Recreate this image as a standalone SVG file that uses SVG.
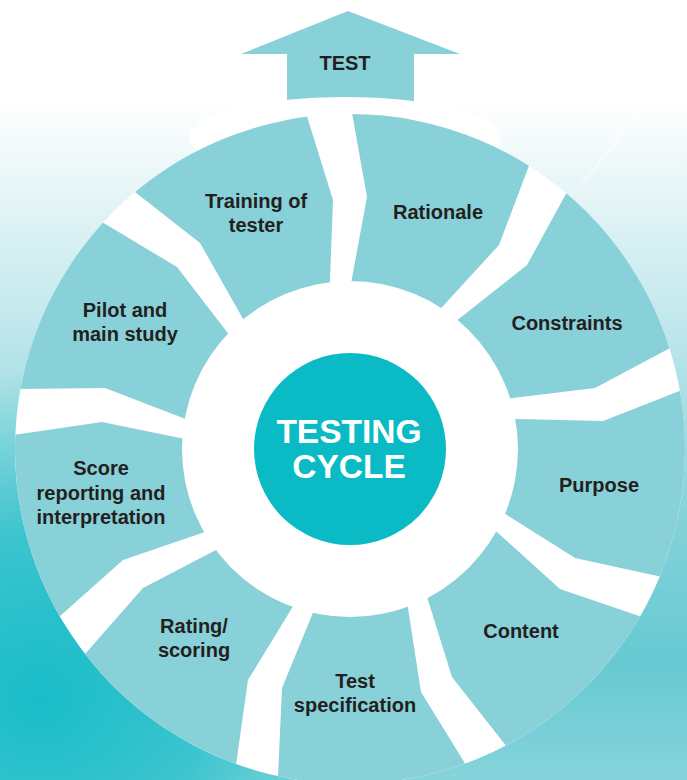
<svg xmlns="http://www.w3.org/2000/svg" width="687" height="780" viewBox="0 0 687 780">
<defs>
<linearGradient id="bg" x1="0" y1="0" x2="0" y2="780" gradientUnits="userSpaceOnUse">
<stop offset="0" stop-color="#ffffff"/>
<stop offset="0.13" stop-color="#ffffff"/>
<stop offset="0.2" stop-color="#f0f9fa"/>
<stop offset="0.4" stop-color="#c4e9ed"/>
<stop offset="0.65" stop-color="#86d3da"/>
<stop offset="0.85" stop-color="#66c9d2"/>
<stop offset="1" stop-color="#86d4db"/>
</linearGradient>
<radialGradient id="bl" cx="40" cy="700" r="330" gradientUnits="userSpaceOnUse">
<stop offset="0" stop-color="#14bcc8" stop-opacity="0.95"/>
<stop offset="0.5" stop-color="#1fbfca" stop-opacity="0.7"/>
<stop offset="1" stop-color="#40c6cf" stop-opacity="0"/>
</radialGradient>
<linearGradient id="streak" x1="687" y1="60" x2="540" y2="230" gradientUnits="userSpaceOnUse">
<stop offset="0" stop-color="#ffffff" stop-opacity="0"/>
<stop offset="0.5" stop-color="#ffffff" stop-opacity="0.5"/>
<stop offset="1" stop-color="#ffffff" stop-opacity="0"/>
</linearGradient>
<clipPath id="ring">
<path clip-rule="evenodd" d="M15,449 a335,335 0 1,0 670,0 a335,335 0 1,0 -670,0 Z M182,449 a168,168 0 1,0 336,0 a168,168 0 1,0 -336,0 Z"/>
</clipPath>
<style>
.seg{fill:#88d1d8;}
.lbl{font-family:"Liberation Sans",Arial,Helvetica,sans-serif;font-weight:bold;font-size:20px;fill:#231f20;text-anchor:middle;}
.ctr{font-family:"Liberation Sans",Arial,Helvetica,sans-serif;font-weight:bold;font-size:33.5px;fill:#ffffff;text-anchor:middle;}
</style>
</defs>
<rect x="0" y="0" width="687" height="780" fill="url(#bg)"/>
<rect x="0" y="330" width="400" height="450" fill="url(#bl)"/>
<path d="M687,55 L540,235" stroke="url(#streak)" stroke-width="3" fill="none"/>

<g id="test-arrow">
<polygon points="348,11 460,54 414,54 414,115 287,115 287,54 241,54" fill="#88d1d8"/>
<text class="lbl" x="345" y="70">TEST</text>
</g>
<ellipse cx="345" cy="138" rx="156" ry="41" fill="#ffffff"/>

<circle cx="350" cy="449" r="335" fill="#ffffff"/>

<g clip-path="url(#ring)">
<g id="seg-training"><polygon class="seg" points="350,449 252,334 242,317 200,243 135,192 119,180 200,-200 300,94 306,113 333,200 330,280 329,300"/></g>
<g id="seg-rationale"><polygon class="seg" points="350,449 348,300 352,278 367,197 352,113 349,94 450,-200 538,142 530,163 499,245 444,305 430,320"/></g>
<g id="seg-constraints"><polygon class="seg" points="350,449 444,331 460,318 527,265 567,192 578,172 900,100 690,337 672,347 595,388 513,398 493,400"/></g>
<g id="seg-purpose"><polygon class="seg" points="350,449 498,419 518,419 603,421 682,390 700,383 1000,450 682,581 662,577 575,558 507,515 490,504"/></g>
<g id="seg-content"><polygon class="seg" points="350,449 483,520 498,533 560,589 642,617 662,624 800,1000 520,763 507,747 452,677 428,600 422,581"/></g>
<g id="seg-testspec"><polygon class="seg" points="350,449 405,588 408,608 421,692 466,765 477,782 350,1100 277,800 278,777 282,688 312,615 320,596"/></g>
<g id="seg-rating"><polygon class="seg" points="350,449 302,591 292,608 248,680 236,765 233,790 -100,1000 72,669 85,654 143,588 214,551 232,542"/></g>
<g id="seg-score"><polygon class="seg" points="350,449 221,527 202,533 123,560 59,617 44,630 -300,500 -6,438 14,435 102,422 180,438 200,442"/></g>
<g id="seg-pilot"><polygon class="seg" points="350,449 202,425 183,418 105,388 18,389 -2,389 -200,150 85,212 102,222 177,267 227,332 239,348"/></g>
</g>

<g id="label-training"><text class="lbl" x="256" y="208">Training of</text><text class="lbl" x="256" y="232">tester</text></g>
<g id="label-rationale"><text class="lbl" x="438" y="219">Rationale</text></g>
<g id="label-constraints"><text class="lbl" x="567" y="330">Constraints</text></g>
<g id="label-purpose"><text class="lbl" x="599" y="492">Purpose</text></g>
<g id="label-content"><text class="lbl" x="521" y="638">Content</text></g>
<g id="label-testspec"><text class="lbl" x="355" y="688">Test</text><text class="lbl" x="355" y="712">specification</text></g>
<g id="label-rating"><text class="lbl" x="194" y="633">Rating/</text><text class="lbl" x="194" y="657">scoring</text></g>
<g id="label-score"><text class="lbl" x="101" y="475">Score</text><text class="lbl" x="101" y="500">reporting and</text><text class="lbl" x="101" y="524">interpretation</text></g>
<g id="label-pilot"><text class="lbl" x="125" y="317">Pilot and</text><text class="lbl" x="125" y="341">main study</text></g>

<g id="center">
<circle cx="350" cy="449" r="96" fill="#0abac5"/>
<text class="ctr" x="349" y="443">TESTING</text>
<text class="ctr" x="349" y="478">CYCLE</text>
</g>
</svg>
